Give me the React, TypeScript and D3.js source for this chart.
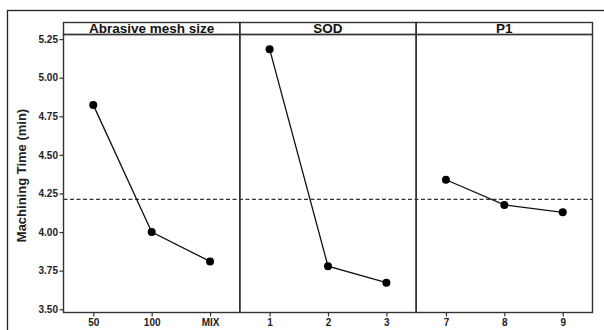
import { useEffect, useRef } from 'react';
import * as d3 from 'd3';

const panelTitles = ['Abrasive mesh size', 'SOD', 'P1'];
const meshLevels = ['50', '100', 'MIX'];
const meshMeans = [4.824, 4.0, 3.81];
const sodLevels = ['1', '2', '3'];
const sodMeans = [5.185, 3.779, 3.672];
const p1Levels = ['7', '8', '9'];
const p1Means = [4.339, 4.176, 4.128];
const yTicks = [3.5, 3.75, 4.0, 4.25, 4.5, 4.75, 5.0, 5.25];
const grandMean = 4.212;

export default function App() {
  const svgRef = useRef<SVGSVGElement | null>(null);

  useEffect(() => {
    if (!svgRef.current) return;
    const svg = d3.select(svgRef.current);
    svg.selectAll('*').remove();

    const font = '"Liberation Sans", Arial, sans-serif';
    const left = 63.5;
    const right = 592.5;
    const headTop = 22.5;
    const top = 34.5;
    const bottom = 312.5;
    const panelW = (right - left) / 3;

    const y = d3.scaleLinear().domain([3.479, 5.28]).range([bottom, top]);

    // outer frame (cut off on the right and bottom)
    svg.append('rect')
      .attr('x', 7.5).attr('y', 10.5)
      .attr('width', 640).attr('height', 360)
      .attr('fill', 'none').attr('stroke', '#222').attr('stroke-width', 1.3);

    const panels = [
      { levels: meshLevels, values: meshMeans },
      { levels: sodLevels, values: sodMeans },
      { levels: p1Levels, values: p1Means },
    ];

    // y axis
    const yAxis = svg.append('g')
      .attr('transform', `translate(${left},0)`)
      .call(d3.axisLeft(y).tickValues(yTicks).tickFormat(d3.format('.2f')).tickSize(4).tickSizeOuter(0));
    yAxis.select('.domain').remove();
    yAxis.selectAll('line').attr('stroke', '#333').attr('stroke-width', 1.2);
    yAxis.selectAll('text')
      .attr('font-family', font).attr('font-size', 10).attr('font-weight', 'bold')
      .attr('fill', '#222').attr('x', -5.5);

    svg.append('text')
      .attr('transform', `translate(25.5,${(top + bottom) / 2 + 2}) rotate(-90)`)
      .attr('text-anchor', 'middle')
      .attr('font-family', font).attr('font-size', 13).attr('font-weight', 'bold')
      .attr('fill', '#222')
      .text('Machining Time (min)');

    // grand mean line
    svg.append('line')
      .attr('x1', left).attr('x2', right)
      .attr('y1', y(grandMean)).attr('y2', y(grandMean))
      .attr('stroke', '#333').attr('stroke-width', 1.1).attr('stroke-dasharray', '4,2.5');

    panels.forEach((p, i) => {
      const x0 = left + i * panelW;
      const x = d3.scalePoint<string>().domain(p.levels).range([x0, x0 + panelW]).padding(0.51);

      const xAxis = svg.append('g')
        .attr('transform', `translate(0,${bottom})`)
        .call(d3.axisBottom(x).tickSize(4).tickSizeOuter(0));
      xAxis.select('.domain').remove();
      xAxis.selectAll('line').attr('stroke', '#333').attr('stroke-width', 1.2);
      xAxis.selectAll('text')
        .attr('font-family', font).attr('font-size', 10).attr('font-weight', 'bold')
        .attr('fill', '#222').attr('y', 6);

      const line = d3.line<number>()
        .x((_, j) => x(p.levels[j]) as number)
        .y((d) => y(d));
      svg.append('path')
        .attr('d', line(p.values))
        .attr('fill', 'none').attr('stroke', '#111').attr('stroke-width', 1.3);

      svg.append('g').selectAll('circle')
        .data(p.values)
        .join('circle')
        .attr('cx', (_, j) => x(p.levels[j]) as number)
        .attr('cy', (d) => y(d))
        .attr('r', 4)
        .attr('fill', '#000');

      // panel frame + header
      svg.append('rect')
        .attr('x', x0).attr('y', top)
        .attr('width', panelW).attr('height', bottom - top)
        .attr('fill', 'none').attr('stroke', '#333').attr('stroke-width', 1.4);
      svg.append('rect')
        .attr('x', x0).attr('y', headTop)
        .attr('width', panelW).attr('height', top - headTop)
        .attr('fill', 'none').attr('stroke', '#333').attr('stroke-width', 1.4);
      svg.append('text')
        .attr('x', x0 + panelW / 2).attr('y', top - 1.5)
        .attr('text-anchor', 'middle')
        .attr('font-family', font).attr('font-size', 13.5).attr('font-weight', 'bold')
        .attr('fill', '#111')
        .text(panelTitles[i]);
    });
  }, []);

  return (
    <svg
      ref={svgRef}
      width={604}
      height={330}
      style={{ position: 'absolute', left: 0, top: 0, background: '#fff' }}
    />
  );
}
